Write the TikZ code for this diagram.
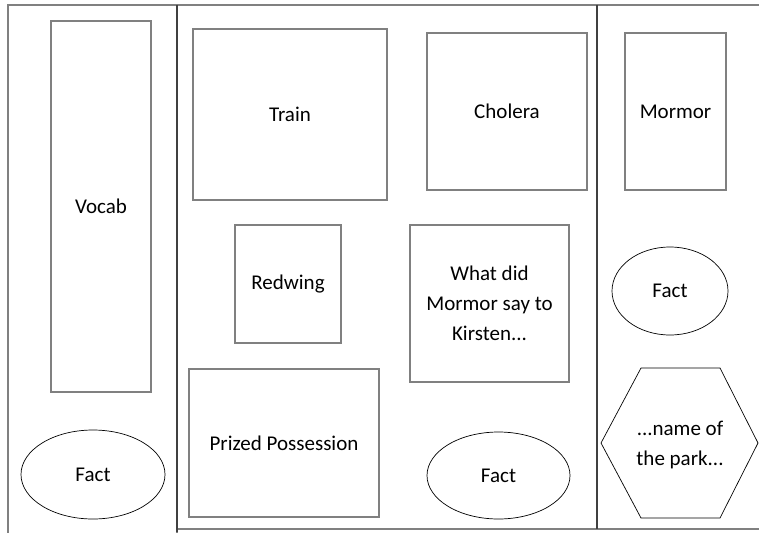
\documentclass[tikz,border=0pt]{standalone}
\usepackage{fontspec}
\setmainfont{Carlito}
\usetikzlibrary{shapes.geometric}
\definecolor{boxgray}{HTML}{808080}
\definecolor{divgray}{HTML}{404040}
\begin{document}
\begin{tikzpicture}[x=1pt,y=-1pt,
  txt/.style={font=\fontsize{21}{30}\selectfont,align=center},
  box/.style={txt,draw=boxgray,line width=1.4pt,rectangle,inner sep=0pt},
  oval/.style={txt,draw=black,line width=0.7pt,ellipse,inner sep=0pt},
  panel/.style={draw=boxgray,line width=1.4pt},
  divider/.style={draw=divgray,line width=1.4pt}]
\useasboundingbox[fill=white] (0,0) rectangle (759,532);
\begin{scope}
\clip (0,0) rectangle (759,532);
\draw[panel] (8,5) rectangle (177,545);
\draw[panel] (177,5) rectangle (597,529);
\draw[panel] (597,5) rectangle (780,529);
\end{scope}
\coordinate (d1t) at (177,5);
\coordinate (d1b) at (177,532);
\coordinate (d2t) at (597,5);
\coordinate (d2b) at (597,529);
\draw[divider] (d1t) -- (d1b);
\draw[divider] (d2t) -- (d2b);
% left panel
\node[box,minimum width=100pt,minimum height=371pt] (vocab) at (101,206.5) {Vocab};
\node[oval,minimum width=144pt,minimum height=89pt] (fact1) at (93,474.5) {Fact};
% middle panel
\node[box,minimum width=194pt,minimum height=171pt] (train) at (290,114.5) {Train};
\node[box,minimum width=160pt,minimum height=157pt] (cholera) at (507,111.5) {Cholera};
\node[box,minimum width=106pt,minimum height=118pt] (redwing) at (288,284) {Redwing};
\node[box,minimum width=159pt,minimum height=157pt] (mormorsay) at (489.5,303.5) {What did\\Mormor say to\\Kirsten...};
\node[box,minimum width=190pt,minimum height=148pt] (prized) at (284,443) {Prized Possession};
\node[oval,minimum width=143pt,minimum height=87pt] (fact2) at (498.5,475.5) {Fact};
% right panel
\node[box,minimum width=101pt,minimum height=157pt] (mormor) at (675.5,111.5) {Mormor};
\node[oval,minimum width=116pt,minimum height=88pt] (fact3) at (670,291) {Fact};
\draw[black,line width=0.7pt] (601,443) -- (641,368) -- (720,368) -- (758,443) -- (720,518) -- (641,518) -- cycle;
\node[txt] (park) at (680,445) {...name of\\the park...};
\end{tikzpicture}
\end{document}
